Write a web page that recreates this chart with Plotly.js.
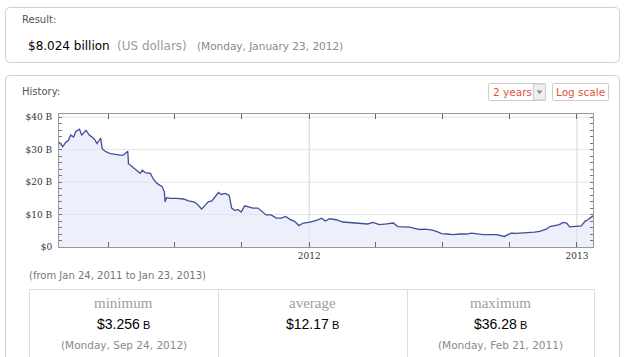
<!DOCTYPE html>
<html>
<head>
<meta charset="utf-8">
<script src="https://cdn.plot.ly/plotly-3.0.1.min.js"></script>
<style>html,body{margin:0;padding:0;background:#fff;}#chart{width:625px;height:357px;}</style>
</head>
<body>
<div id="chart"></div>
<script>
// ---- data ----
const dates = [
 '2011-01-24','2011-01-29','2011-02-02','2011-02-06','2011-02-09','2011-02-13','2011-02-16','2011-02-21',
 '2011-02-24','2011-02-28','2011-03-02','2011-03-06','2011-03-10','2011-03-13','2011-03-17','2011-03-21',
 '2011-03-22','2011-03-24','2011-03-28','2011-04-04','2011-04-11','2011-04-18','2011-04-22','2011-04-26',
 '2011-04-28','2011-04-29','2011-05-04','2011-05-10','2011-05-15','2011-05-18','2011-05-22','2011-05-29',
 '2011-06-02','2011-06-07','2011-06-14','2011-06-17','2011-06-18','2011-06-20','2011-06-25','2011-07-04',
 '2011-07-13','2011-07-20','2011-07-27','2011-07-31','2011-08-07','2011-08-12','2011-08-16','2011-08-21',
 '2011-08-25','2011-08-30','2011-09-03','2011-09-08','2011-09-13','2011-09-14','2011-09-17','2011-09-21',
 '2011-09-26','2011-09-30','2011-10-05','2011-10-09','2011-10-16','2011-10-23','2011-10-28','2011-11-03',
 '2011-11-10','2011-11-17','2011-11-24','2011-11-30','2011-12-05','2011-12-12','2011-12-18','2011-12-24',
 '2012-01-02','2012-01-11','2012-01-18','2012-01-23','2012-01-29','2012-02-07','2012-02-16','2012-02-25',
 '2012-03-06','2012-03-15','2012-03-21','2012-03-28','2012-04-06','2012-04-16','2012-04-25','2012-05-01',
 '2012-05-08','2012-05-17','2012-05-27','2012-05-31','2012-06-07','2012-06-16','2012-06-23','2012-06-30',
 '2012-07-07','2012-07-16','2012-07-25','2012-08-03','2012-08-10','2012-08-17','2012-08-26','2012-09-04',
 '2012-09-13','2012-09-24','2012-10-03','2012-10-10','2012-10-19','2012-10-28','2012-11-04','2012-11-11',
 '2012-11-16','2012-11-20','2012-11-25','2012-12-02','2012-12-08','2012-12-13','2012-12-18','2012-12-22',
 '2012-12-27','2013-01-02','2013-01-07','2013-01-12','2013-01-16','2013-01-23'
];
const values = [
 32.4,30.9,32.2,32.9,34.5,33.9,35.6,36.28,
 34.5,35.7,36.0,34.6,33.9,33.4,31.9,33.2,
 33.6,30.3,29.5,28.8,28.5,28.3,28.3,29.1,
 29.5,25.7,24.7,23.4,22.7,23.7,22.9,22.7,
 20.9,19.6,18.6,17.0,13.9,15.2,15.0,15.0,
 14.8,14.2,13.9,13.4,11.7,12.9,13.9,14.2,
 15.5,16.8,16.2,16.5,16.0,15.6,12.0,11.3,
 11.5,10.8,12.7,12.5,12.0,12.0,11.0,9.9,
 9.9,8.9,8.9,9.4,8.6,7.9,6.6,7.4,
 7.7,8.2,8.9,8.02,8.7,8.4,7.7,7.6,
 7.4,7.4,7.1,7.6,6.9,7.1,7.4,6.3,
 6.2,6.1,5.6,5.4,5.5,5.3,4.8,4.1,
 4.0,3.8,4.0,4.0,4.3,4.0,3.8,3.8,
 3.8,3.256,4.3,4.2,4.3,4.3,4.6,4.8,
 5.3,5.5,6.3,6.6,6.9,7.6,7.4,6.2,
 6.3,6.3,6.5,7.9,8.4,9.6
];
// y ticks: every 2 B, labelled every 10 B
const yTickVals = [0,2,4,6,8,10,12,14,16,18,20,22,24,26,28,30,32,34,36,38,40];
const yTickText = ['$0','','','','','$10 B','','','','','$20 B','','','','','$30 B','','','','','$40 B'];
const yGridVals = [10, 20, 30, 40];
// x ticks: quarters, labelled at year starts
const xTickVals = ['2011-04-01','2011-07-01','2011-10-01','2012-01-01','2012-04-01','2012-07-01','2012-10-01','2013-01-01'];
const xTickText = ['','','','2012','','','','2013'];
const xGridVals = ['2012-01-01', '2013-01-01'];
const xRange = ['2011-01-24', '2013-01-23'];
const statLabels = ['minimum', 'average', 'maximum'];
const statValues = ['$3.256', '$12.17', '$36.28'];
const statDates = ['(Monday, Sep 24, 2012)', '', '(Monday, Feb 21, 2011)'];

// ---- pixel -> paper helpers (layout only) ----
const L = 59, R = 593, T = 114, B = 247;
const X = px => (px - L) / (R - L);
const Y = py => (B - py) / (B - T);
function rrect(x0, y0, x1, y1, r) {
  const p = (x, y) => X(x) + ',' + Y(y);
  return 'M' + p(x0 + r, y0) + ' L' + p(x1 - r, y0) + ' Q' + p(x1, y0) + ' ' + p(x1, y0 + r) +
    ' L' + p(x1, y1 - r) + ' Q' + p(x1, y1) + ' ' + p(x1 - r, y1) +
    ' L' + p(x0 + r, y1) + ' Q' + p(x0, y1) + ' ' + p(x0, y1 - r) +
    ' L' + p(x0, y0 + r) + ' Q' + p(x0, y0) + ' ' + p(x0 + r, y0) + ' Z';
}
const line = (x0, y0, x1, y1, c) => ({type: 'line', xref: 'paper', yref: 'paper', x0: X(x0), y0: Y(y0), x1: X(x1), y1: Y(y1), line: {color: c, width: 1}});
const txt = (text, x, y, size, color, family, anchor) => ({
  text: text, xref: 'paper', yref: 'paper', x: X(x), y: Y(y), showarrow: false,
  xanchor: anchor || 'left', yanchor: 'middle', font: {size: size, color: color, family: family || 'DejaVu Sans'}
});

const shapes = [
  {type: 'path', xref: 'paper', yref: 'paper', path: rrect(5.5, 7.5, 619.5, 62.5, 5), line: {color: '#cfcfcf', width: 1}},
  {type: 'path', xref: 'paper', yref: 'paper', path: rrect(5.5, 75.5, 619.5, 380, 5), line: {color: '#cfcfcf', width: 1}},
  // buttons
  {type: 'path', xref: 'paper', yref: 'paper', path: rrect(488.5, 83.5, 545.5, 100.5, 2), line: {color: '#cccccc', width: 1}, fillcolor: '#ffffff'},
  {type: 'rect', xref: 'paper', yref: 'paper', x0: X(533.5), x1: X(545.5), y0: Y(84), y1: Y(100), line: {color: '#cccccc', width: 1}, fillcolor: '#eeeeee'},
  {type: 'path', xref: 'paper', yref: 'paper', path: 'M' + X(536.5) + ',' + Y(90.5) + ' L' + X(542.5) + ',' + Y(90.5) + ' L' + X(539.5) + ',' + Y(94) + ' Z', line: {width: 0}, fillcolor: '#888888'},
  {type: 'path', xref: 'paper', yref: 'paper', path: rrect(552.5, 83.5, 608.5, 100.5, 2), line: {color: '#cccccc', width: 1}, fillcolor: '#ffffff'},
  // stats table
  {type: 'rect', xref: 'paper', yref: 'paper', x0: X(29.5), x1: X(594.5), y0: Y(289.5), y1: Y(380), line: {color: '#dddddd', width: 1}},
  line(218.5, 289.5, 218.5, 380, '#dddddd'),
  line(407.5, 289.5, 407.5, 380, '#dddddd')
];
// gridlines in data coordinates
xGridVals.forEach(d => shapes.push({type: 'line', xref: 'x', yref: 'paper', x0: d, x1: d, y0: 0, y1: 1, layer: 'below', line: {color: '#d6d6d6', width: 1}}));
yGridVals.forEach(v => shapes.push({type: 'line', xref: 'paper', yref: 'y', x0: 0, x1: 1, y0: v, y1: v, layer: 'below', line: {color: '#e4e4e4', width: 1}}));

const annotations = [
  txt('Result:', 20, 20, 10, '#555555'),
  txt('$8.024 billion', 26, 46, 12, '#000000'),
  txt('(US dollars)', 115, 46, 12, '#9a9a9a'),
  txt('(Monday, January 23, 2012)', 195, 46, 10.5, '#8a8a8a'),
  txt('History:', 20, 91, 10, '#555555'),
  txt('2 years', 490.5, 92, 10.5, '#e0533f'),
  txt('Log scale', 580.5, 92, 10.5, '#e0533f', 'DejaVu Sans', 'center'),
  txt('(from Jan 24, 2011 to Jan 23, 2013)', 27, 275, 10, '#777777')
];
const centers = [123.5, 312.5, 500.5];
for (let i = 0; i < 3; i++) {
  annotations.push(txt(statLabels[i], centers[i], 303, 15, '#a0a0a0', 'Liberation Serif', 'center'));
  annotations.push(txt(statValues[i] + '<span style="font-size:11px"> B</span>', centers[i], 324, 14, '#000000', 'Liberation Sans', 'center'));
  if (statDates[i]) annotations.push(txt(statDates[i], centers[i], 345, 10.5, '#8a8a8a', 'DejaVu Sans', 'center'));
}

const trace = {
  x: dates, y: values, type: 'scatter', mode: 'lines',
  line: {color: '#3f4f98', width: 1.3},
  fill: 'tozeroy', fillcolor: 'rgba(225,228,246,0.6)',
  hoverinfo: 'skip'
};

const layout = {
  width: 625, height: 357,
  margin: {l: L, r: 625 - R, t: T, b: 357 - B, pad: 0},
  paper_bgcolor: '#ffffff', plot_bgcolor: '#ffffff',
  showlegend: false,
  xaxis: {
    type: 'date', range: xRange, tickmode: 'array', tickvals: xTickVals, ticktext: xTickText,
    showgrid: false,
    ticks: 'inside', ticklen: 5, tickcolor: '#666666',
    showline: true, linecolor: '#999999', linewidth: 1, mirror: 'ticks',
    zeroline: false,
    tickfont: {family: 'DejaVu Serif', size: 9, color: '#333333'}
  },
  yaxis: {
    range: [0, 41], tickmode: 'array', tickvals: yTickVals, ticktext: yTickText,
    showgrid: false,
    ticks: 'inside', ticklen: 3, tickcolor: '#777777',
    showline: true, linecolor: '#999999', linewidth: 1, mirror: 'ticks',
    zeroline: false,
    tickfont: {family: 'DejaVu Serif', size: 9, color: '#333333'},
    ticklabelstandoff: 4
  },
  shapes: shapes,
  annotations: annotations
};

Plotly.newPlot('chart', [trace], layout, {staticPlot: true, displayModeBar: false});
</script>
</body>
</html>
